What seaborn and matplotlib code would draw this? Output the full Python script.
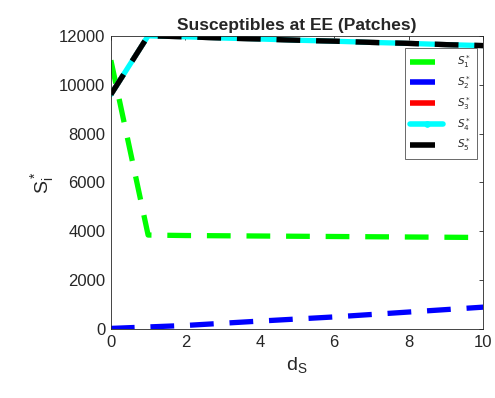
import numpy as np
import pandas as pd
import matplotlib
matplotlib.use("Agg")
import matplotlib.pyplot as plt
import seaborn as sns

# Diffusion rate d_S and equilibrium susceptibles in each patch
d_s = [0, 1, 2, 3, 4, 5, 6, 7, 8, 9, 10]
s1 = [11000, 3850, 3830, 3820, 3810, 3800, 3790, 3780, 3770, 3760, 3750]
s2 = [30, 90, 150, 240, 330, 415, 500, 600, 700, 800, 900]
s3 = [9600, 12000, 11960, 11910, 11870, 11820, 11780, 11730, 11690, 11640, 11600]
s4 = [9600, 12000, 11960, 11910, 11870, 11820, 11780, 11730, 11690, 11640, 11600]
s5 = [9600, 12000, 11960, 11910, 11870, 11820, 11780, 11730, 11690, 11640, 11600]

labels = ["$S^*_1$", "$S^*_2$", "$S^*_3$", "$S^*_4$", "$S^*_5$"]
colors = ["#00ff00", "#0000ff", "#ff0000", "#00ffff", "#000000"]

df = pd.DataFrame({"d": d_s * 5,
                   "S": s1 + s2 + s3 + s4 + s5,
                   "patch": sum([[l] * len(d_s) for l in labels], [])})

sns.set_style("white")
plt.rcParams["font.family"] = ["Liberation Sans", "DejaVu Sans"]

fig = plt.figure(figsize=(4.95, 3.98), dpi=100)
ax = fig.add_axes([0.224, 0.173, 0.752, 0.737])

dash = (4.5, 3)
solid_patch = labels[3]

for lab, col in zip(labels, colors):
    sub = df[df["patch"] == lab]
    kw = dict(color=col, linewidth=3.8, label=lab)
    if lab == solid_patch:
        kw["linestyle"] = "-"
    else:
        kw["dashes"] = dash
    sns.lineplot(data=sub, x="d", y="S", ax=ax, **kw)

ax.set_xlim(0, 10)
ax.set_ylim(0, 12000)
ax.set_xticks([0, 2, 4, 6, 8, 10])
ax.set_yticks(np.arange(0, 12001, 2000))
ax.tick_params(direction="in", length=3, width=0.6, colors="#262626",
               labelsize=12, top=True, right=True, pad=4)
for sp in ax.spines.values():
    sp.set_color("#262626")
    sp.set_linewidth(0.6)

ax.set_xlabel("$\\mathregular{d_S}$", fontsize=14, color="#262626")
ax.set_ylabel("$\\mathregular{S^*_i}$", fontsize=14, color="#262626", labelpad=2)
ax.set_title("Susceptibles at EE (Patches)", fontsize=12.5, fontweight="bold", pad=4)

handles, labs = ax.get_legend_handles_labels()
leg = ax.legend(handles, labs, loc="upper right", bbox_to_anchor=(0.984, 0.959),
                frameon=True, fancybox=False, fontsize=7.5, handlelength=3.1,
                labelspacing=0.38, borderpad=0.55, handletextpad=1.4,
                borderaxespad=0)
leg.get_frame().set_edgecolor("#262626")
leg.get_frame().set_linewidth(0.6)
for lh in leg.get_lines():
    lh.set_linewidth(4)
cyan_handle = leg.get_lines()[3]
cyan_handle.set_marker("o")
cyan_handle.set_markersize(4)
cyan_handle.set_markerfacecolor(colors[3])
cyan_handle.set_markeredgecolor(colors[3])
cyan_handle.set_markevery([1])

fig.savefig("out.png", dpi=100)
